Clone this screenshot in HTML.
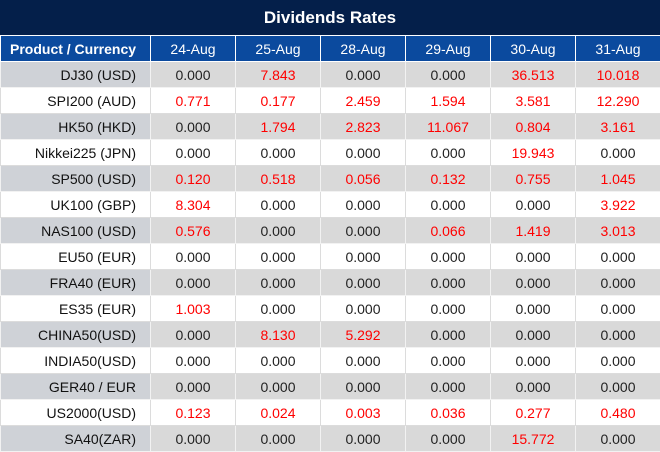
<!DOCTYPE html>
<html><head><style>
*{margin:0;padding:0;box-sizing:border-box}
body{width:660px;height:452px;background:#fff;font-family:"Liberation Sans","DejaVu Sans",sans-serif;overflow:hidden;position:relative}
.t{position:absolute;left:0;top:0;width:660px;height:35px;background:#041f4a;color:#fff;font-weight:bold;font-size:17px;text-align:center;line-height:35px}
table{position:absolute;left:0;top:35px;border-collapse:collapse;table-layout:fixed;width:660px}
td,th{height:26px;font-size:14px;text-align:center;color:#222;border:1px solid #dcdcdc;padding:0;white-space:nowrap}
th{background:#0b4a9e;color:#fff;font-weight:normal;border:1px solid #fff;border-top:1px solid #fff}
th:first-child{font-weight:bold;font-size:14px;text-align:left;padding-left:9px}
td:first-child{text-align:right;padding-right:14px;color:#111}
tr.g td{background:#d9d9d9;border-color:#f2f2f2}
tr.g td:first-child{background:#cfd2d7}
.r{color:#f00}
</style></head><body>
<div class="t">Dividends Rates</div>
<table>
<colgroup><col style="width:150px"><col style="width:85px"><col style="width:85px"><col style="width:85px"><col style="width:85px"><col style="width:85px"><col style="width:85px"></colgroup>
<tr><th>Product / Currency</th><th>24-Aug</th><th>25-Aug</th><th>28-Aug</th><th>29-Aug</th><th>30-Aug</th><th>31-Aug</th></tr>
<tr class="g"><td>DJ30 (USD)</td><td>0.000</td><td class="r">7.843</td><td>0.000</td><td>0.000</td><td class="r">36.513</td><td class="r">10.018</td></tr>
<tr><td>SPI200 (AUD)</td><td class="r">0.771</td><td class="r">0.177</td><td class="r">2.459</td><td class="r">1.594</td><td class="r">3.581</td><td class="r">12.290</td></tr>
<tr class="g"><td>HK50 (HKD)</td><td>0.000</td><td class="r">1.794</td><td class="r">2.823</td><td class="r">11.067</td><td class="r">0.804</td><td class="r">3.161</td></tr>
<tr><td>Nikkei225 (JPN)</td><td>0.000</td><td>0.000</td><td>0.000</td><td>0.000</td><td class="r">19.943</td><td>0.000</td></tr>
<tr class="g"><td>SP500 (USD)</td><td class="r">0.120</td><td class="r">0.518</td><td class="r">0.056</td><td class="r">0.132</td><td class="r">0.755</td><td class="r">1.045</td></tr>
<tr><td>UK100 (GBP)</td><td class="r">8.304</td><td>0.000</td><td>0.000</td><td>0.000</td><td>0.000</td><td class="r">3.922</td></tr>
<tr class="g"><td>NAS100 (USD)</td><td class="r">0.576</td><td>0.000</td><td>0.000</td><td class="r">0.066</td><td class="r">1.419</td><td class="r">3.013</td></tr>
<tr><td>EU50 (EUR)</td><td>0.000</td><td>0.000</td><td>0.000</td><td>0.000</td><td>0.000</td><td>0.000</td></tr>
<tr class="g"><td>FRA40 (EUR)</td><td>0.000</td><td>0.000</td><td>0.000</td><td>0.000</td><td>0.000</td><td>0.000</td></tr>
<tr><td>ES35 (EUR)</td><td class="r">1.003</td><td>0.000</td><td>0.000</td><td>0.000</td><td>0.000</td><td>0.000</td></tr>
<tr class="g"><td>CHINA50(USD)</td><td>0.000</td><td class="r">8.130</td><td class="r">5.292</td><td>0.000</td><td>0.000</td><td>0.000</td></tr>
<tr><td>INDIA50(USD)</td><td>0.000</td><td>0.000</td><td>0.000</td><td>0.000</td><td>0.000</td><td>0.000</td></tr>
<tr class="g"><td>GER40 / EUR</td><td>0.000</td><td>0.000</td><td>0.000</td><td>0.000</td><td>0.000</td><td>0.000</td></tr>
<tr><td>US2000(USD)</td><td class="r">0.123</td><td class="r">0.024</td><td class="r">0.003</td><td class="r">0.036</td><td class="r">0.277</td><td class="r">0.480</td></tr>
<tr class="g"><td>SA40(ZAR)</td><td>0.000</td><td>0.000</td><td>0.000</td><td>0.000</td><td class="r">15.772</td><td>0.000</td></tr>
</table>
</body></html>
